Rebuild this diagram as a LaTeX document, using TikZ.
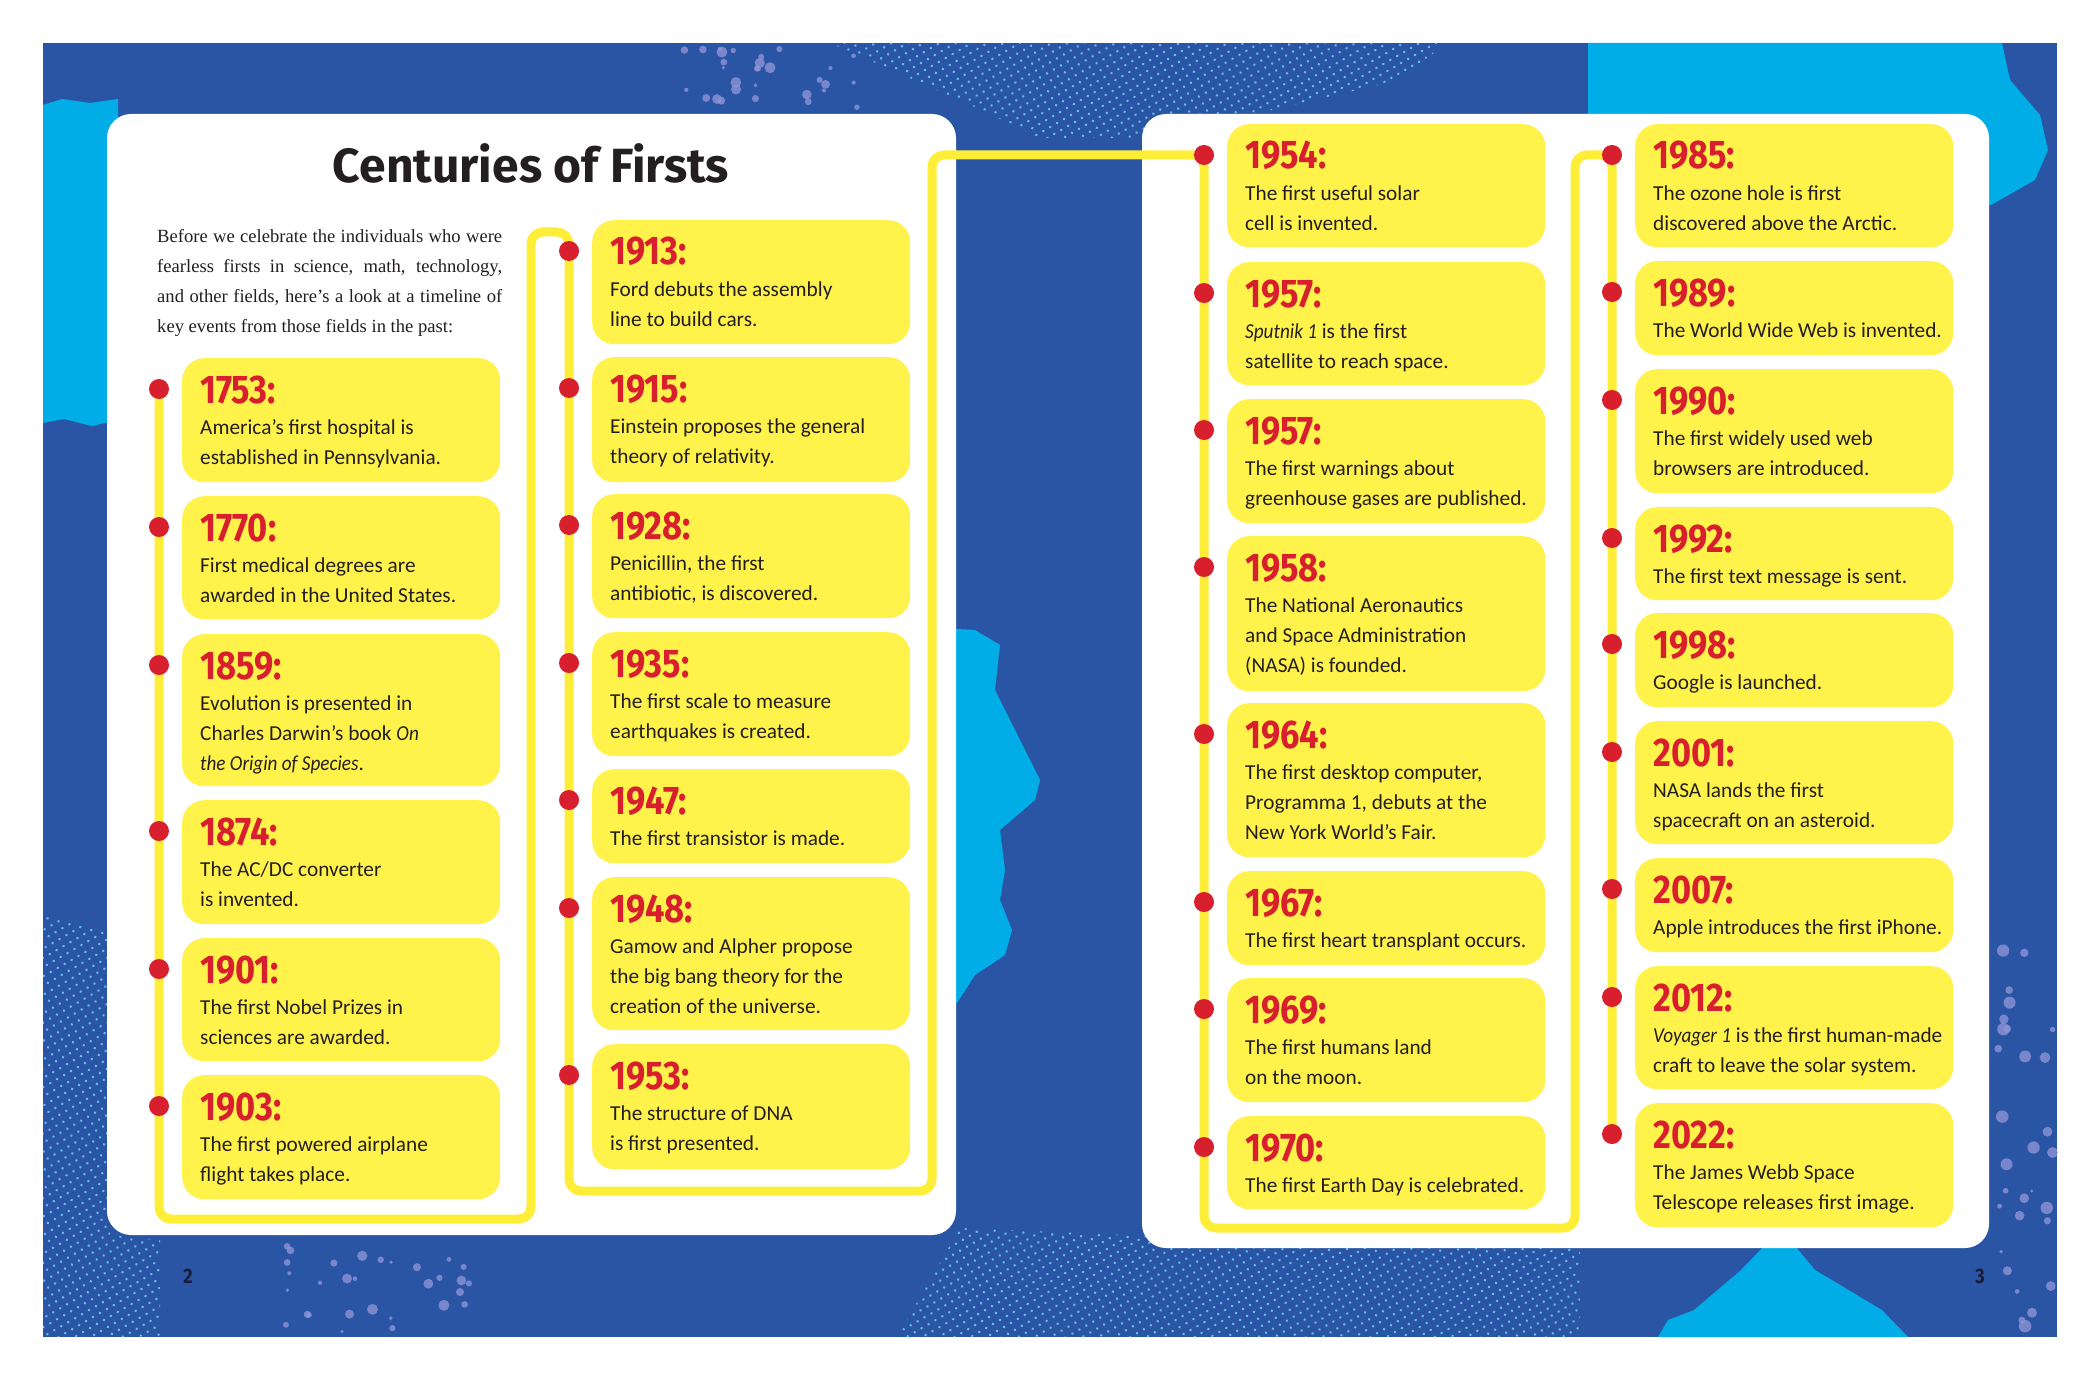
\documentclass[tikz,border=0pt]{standalone}
\usepackage{fontspec}
\setmainfont{Carlito}[ItalicFeatures={FakeStretch=0.9}]
\newfontfamily\yearfont[FakeStretch=0.86]{Fira Sans}
\newfontfamily\headfont{Fira Sans}
\newfontfamily\introfont{Liberation Serif}
\usetikzlibrary{positioning,calc,patterns.meta}
\definecolor{pageblue}{HTML}{2A55A5}
\definecolor{splash}{HTML}{00ADE6}
\definecolor{dotcyan}{HTML}{5FC3E8}
\definecolor{bubblelilac}{HTML}{8E93D6}
\definecolor{cardyellow}{HTML}{FFF24A}
\definecolor{trailyellow}{HTML}{FFEE38}
\definecolor{beadred}{HTML}{D71F2D}
\definecolor{ink}{HTML}{231F20}
\definecolor{folioink}{HTML}{1B1B3A}
\pgfdeclarelayer{under}
\pgfdeclarelayer{trailbed}
\pgfsetlayers{under,trailbed,main}

\begin{document}
\begin{tikzpicture}[x=1pt,y=-1pt,
  card/.style={rectangle,rounded corners=22pt,fill=cardyellow,minimum width=318pt,anchor=north west,inner sep=0pt},
  bead/.style={circle,fill=beadred,minimum size=20pt,inner sep=0pt},
  yr/.style={anchor=base west,inner sep=0pt,text=beadred,font=\yearfont\bfseries\fontsize{40}{40}\selectfont},
  info/.style={anchor=north west,inner sep=0pt,align=left,text=ink,font=\fontsize{21.3}{30}\selectfont},
  trail/.style={draw=trailyellow,line width=9pt,rounded corners=12pt},
  panel/.style={fill=white,rounded corners=24pt},
  halftone/.style={pattern={Dots[distance=8pt,radius=1.4pt,angle=30]},pattern color=dotcyan},
  bubble/.style={fill=bubblelilac,opacity=0.8},
  headline/.style={anchor=base,inner sep=0pt,text=ink,font=\headfont\bfseries\fontsize{48}{48}\selectfont},
  lead/.style={anchor=north west,inner sep=0pt,text width=345pt,align=justify,text=ink,font=\introfont\fontsize{18.6}{30}\selectfont},
  folio/.style={anchor=base,inner sep=0pt,text=folioink,font=\yearfont\bfseries\fontsize{21}{21}\selectfont}]

\useasboundingbox (0,0) rectangle (2100,1380);

\begin{pgfonlayer}{under}
\fill[white] (0,0) rectangle (2100,1380);
\fill[pageblue] (43,43) rectangle (2057,1337);
\fill[splash] (43,105) -- (62,99) -- (90,103) -- (118,99) -- (118,420) -- (92,426) -- (64,419) -- (43,423) -- cycle;
\fill[splash] (1588,43) -- (2002,43) -- (2010,80) -- (2040,115) -- (2048,150) -- (2035,180) -- (1991,205) -- (1588,205) -- cycle;
\fill[splash] (940,628) -- (975,630) -- (1000,645) -- (995,690) -- (1020,740) -- (1040,780) -- (1035,800) -- (1000,830) -- (1005,870) -- (1000,900) -- (1012,930) -- (1005,955) -- (975,975) -- (957,1003) -- (940,1003) -- cycle;
\fill[splash] (1658,1337) -- (1668,1320) -- (1694,1310) -- (1741,1270) -- (1770,1240) -- (1790,1240) -- (1815,1270) -- (1882,1310) -- (1908,1337) -- cycle;
\fill[halftone] (830,43) -- (1446,43) -- (1400,80) -- (1250,115) -- (1150,138) -- (1040,138) -- (960,100) -- cycle;
\fill[halftone] (960,1228) -- (1150,1236) -- (1580,1240) -- (1580,1337) -- (897,1337) -- cycle;
\fill[halftone] (43,915) -- (110,930) -- (110,1235) -- (160,1240) -- (160,1337) -- (43,1337) -- cycle;
\pgfmathsetseed{42}
\foreach \i in {1,...,30}{
  \pgfmathsetmacro\bubx{680+rnd*180}\pgfmathsetmacro\buby{48+rnd*60}\pgfmathsetmacro\bubr{1.5+rnd*4}
  \fill[bubble] (\bubx,\buby) circle[radius=\bubr pt];
}
\foreach \i in {1,...,30}{
  \pgfmathsetmacro\bubx{270+rnd*200}\pgfmathsetmacro\buby{1245+rnd*88}\pgfmathsetmacro\bubr{1.5+rnd*4}
  \fill[bubble] (\bubx,\buby) circle[radius=\bubr pt];
}
\foreach \i in {1,...,30}{
  \pgfmathsetmacro\bubx{1995+rnd*58}\pgfmathsetmacro\buby{950+rnd*383}\pgfmathsetmacro\bubr{1.5+rnd*5}
  \fill[bubble] (\bubx,\buby) circle[radius=\bubr pt];
}
\fill[panel] (107,114) rectangle (956,1235);
\fill[panel] (1142,114) rectangle (1989,1248);
\end{pgfonlayer}

\node[headline] (title) at (531,183) {Centuries of Firsts};
\node[lead] (intro) at (157,226) {\rule{0pt}{16pt}Before we celebrate the individuals who were\linebreak fearless firsts in science, math, technology,\linebreak and other fields, here’s a look at a timeline of\linebreak key events from those fields in the past:};

\foreach \n/\xl/\ytop/\ybot/\when/\txt in {
  A1/182/358/482/1753/{America’s first hospital is\\established in Pennsylvania.},
  A2/182/496/619/1770/{First medical degrees are\\awarded in the United States.},
  A3/182/634/786/1859/{Evolution is presented in\\Charles Darwin’s book \textit{On}\\\textit{the Origin of Species}.},
  A4/182/800/924/1874/{The AC/DC converter\\is invented.},
  A5/182/938/1061/1901/{The first Nobel Prizes in\\sciences are awarded.},
  A6/182/1075/1199/1903/{The first powered airplane\\flight takes place.},
  B1/592/220/344/1913/{Ford debuts the assembly\\line to build cars.},
  B2/592/357/482/1915/{Einstein proposes the general\\theory of relativity.},
  B3/592/494/618/1928/{Penicillin, the first\\antibiotic, is discovered.},
  B4/592/632/756/1935/{The first scale to measure\\earthquakes is created.},
  B5/592/769/863/1947/{The first transistor is made.},
  B6/592/877/1030/1948/{Gamow and Alpher propose\\the big bang theory for the\\creation of the universe.},
  B7/592/1044/1169/1953/{The structure of DNA\\is first presented.},
  C1/1227/124/247/1954/{The first useful solar\\cell is invented.},
  C2/1227/262/385/1957/{\textit{Sputnik 1} is the first\\satellite to reach space.},
  C3/1227/399/523/1957/{The first warnings about\\greenhouse gases are published.},
  C4/1227/536/691/1958/{The National Aeronautics\\and Space Administration\\(NASA) is founded.},
  C5/1227/703/857/1964/{The first desktop computer,\\Programma 1, debuts at the\\New York World’s Fair.},
  C6/1227/871/965/1967/{The first heart transplant occurs.},
  C7/1227/978/1102/1969/{The first humans land\\on the moon.},
  C8/1227/1116/1209/1970/{The first Earth Day is celebrated.},
  D1/1635/124/247/1985/{The ozone hole is first\\discovered above the Arctic.},
  D2/1635/261/355/1989/{The World Wide Web is invented.},
  D3/1635/369/493/1990/{The first widely used web\\browsers are introduced.},
  D4/1635/507/600/1992/{The first text message is sent.},
  D5/1635/613/707/1998/{Google is launched.},
  D6/1635/721/844/2001/{NASA lands the first\\spacecraft on an asteroid.},
  D7/1635/858/952/2007/{Apple introduces the first iPhone.},
  D8/1635/966/1089/2012/{\textit{Voyager 1} is the first human-made\\craft to leave the solar system.},
  D9/1635/1103/1227/2022/{The James Webb Space\\Telescope releases first image.}}{
  \node[card,minimum height=\ybot-\ytop] (box\n) at (\xl,\ytop) {};
  \node[yr] (year\n) at ([xshift=18pt,yshift=-45pt]box\n.north west) {\when:};
  \node[info] (text\n) at ([xshift=18pt,yshift=-56pt]box\n.north west) {\rule{0pt}{20pt}\txt};
  \node[bead] (p\n) at ([xshift=-23pt,yshift=-31pt]box\n.north west) {};
}

\coordinate (kA) at (531,1219);
\coordinate (kB) at (569,232);
\coordinate (kC) at (932,1191);
\coordinate (kD) at (1575,1228);
\begin{pgfonlayer}{trailbed}
\draw[trail] (pA1.center) |- (kA) |- (kB) |- (kC) |- (pC1.center) |- (kD) |- (pD1.center) -- (pD9.center);
\end{pgfonlayer}

\node[folio] (page2) at (188,1283) {2};
\node[folio] (page3) at (1980,1283) {3};
\end{tikzpicture}
\end{document}
